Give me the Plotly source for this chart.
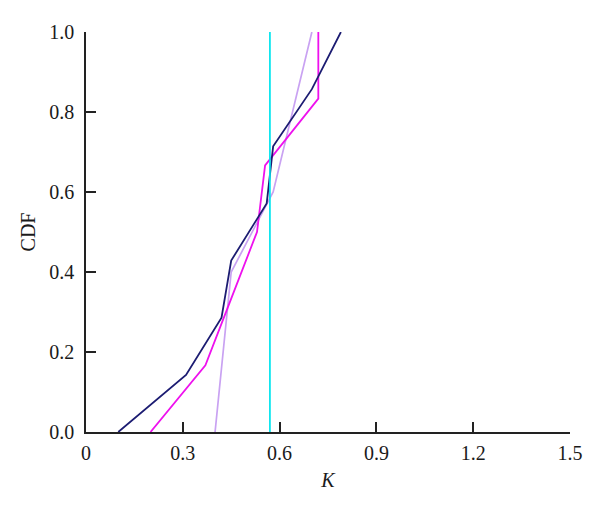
import plotly.graph_objects as go

# Data
navy_x = [0.10, 0.31, 0.42, 0.45, 0.56, 0.58, 0.70, 0.79]
navy_y = [0, 1/7, 2/7, 3/7, 4/7, 5/7, 6/7, 1.0]

magenta_x = [0.20, 0.37, 0.45, 0.53, 0.555, 0.72, 0.72]
magenta_y = [0, 1/6, 2/6, 3/6, 4/6, 5/6, 1.0]

lavender_x = [0.40, 0.425, 0.45, 0.58, 0.64, 0.70]
lavender_y = [0, 0.2, 0.4, 0.6, 0.8, 1.0]

cyan_x = [0.57, 0.57]
cyan_y = [0, 1.0]

x_ticks = [0, 0.3, 0.6, 0.9, 1.2, 1.5]
x_tick_text = ["0", "0.3", "0.6", "0.9", "1.2", "1.5"]
y_ticks = [0, 0.2, 0.4, 0.6, 0.8, 1.0]
y_tick_text = ["0.0", "0.2", "0.4", "0.6", "0.8", "1.0"]

fig = go.Figure()
fig.add_trace(go.Scatter(x=lavender_x, y=lavender_y, mode="lines",
                         line=dict(color="#c9a2f2", width=1.7)))
fig.add_trace(go.Scatter(x=magenta_x, y=magenta_y, mode="lines",
                         line=dict(color="#ee11ee", width=1.8)))
fig.add_trace(go.Scatter(x=navy_x, y=navy_y, mode="lines",
                         line=dict(color="#1c1c72", width=1.8)))
fig.add_trace(go.Scatter(x=cyan_x, y=cyan_y, mode="lines",
                         line=dict(color="#00e5ee", width=1.7)))

font = dict(family="Liberation Serif, Times New Roman, serif", size=20, color="#1a1a1a")

fig.update_layout(
    width=592, height=505,
    margin=dict(l=78, r=30, t=24, b=81),
    paper_bgcolor="white", plot_bgcolor="white",
    showlegend=False,
    font=font,
    xaxis=dict(range=[0, 1.5], tickvals=x_ticks, ticktext=x_tick_text,
               showgrid=False, zeroline=False, showline=True,
               linecolor="#222222", linewidth=1.5,
               ticks="inside", ticklen=10, tickwidth=1.5, tickcolor="#222222",
               ticklabelstandoff=2,
               title=dict(text="<i>K</i>", font=font, standoff=10)),
    yaxis=dict(range=[0, 1.0], tickvals=y_ticks, ticktext=y_tick_text,
               showgrid=False, zeroline=False, showline=True,
               linecolor="#222222", linewidth=1.5,
               ticks="inside", ticklen=10, tickwidth=1.5, tickcolor="#222222",
               ticklabelstandoff=6,
               title=dict(text="CDF", font=font, standoff=8)),
)

fig.write_html("out.html")
